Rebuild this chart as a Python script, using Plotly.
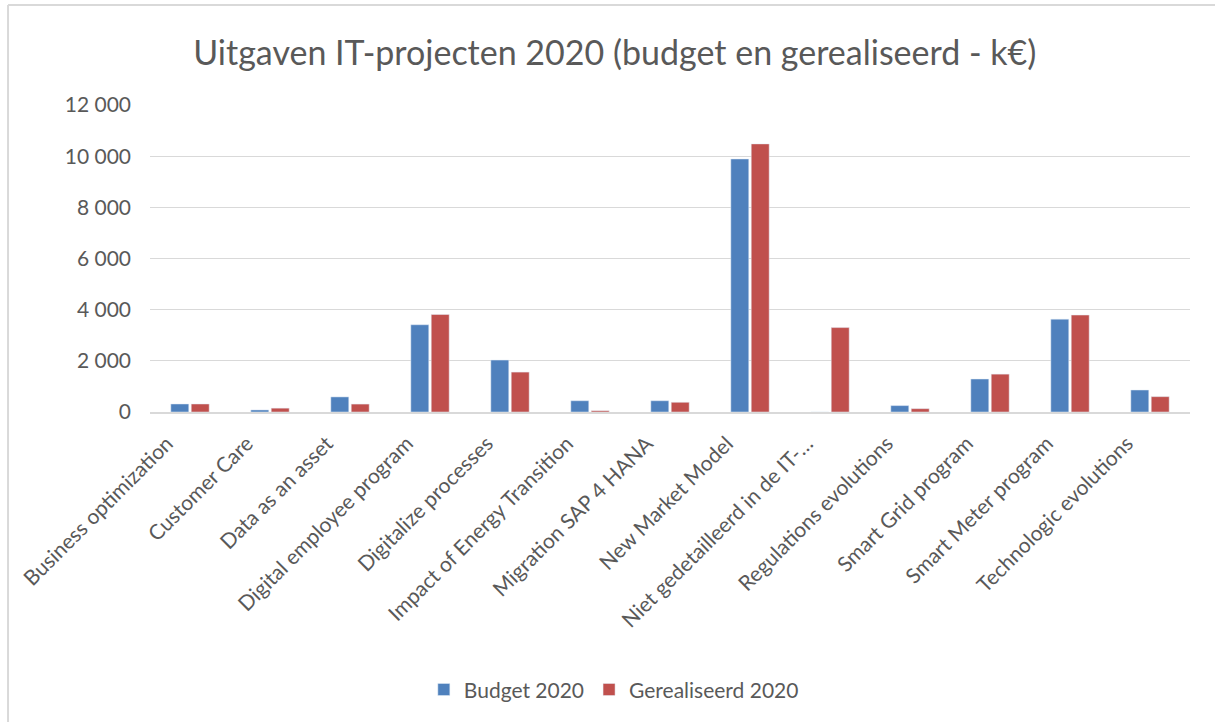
import plotly.graph_objects as go

categories = [
    "Business optimization", "Customer Care", "Data as an asset",
    "Digital employee program", "Digitalize processes",
    "Impact of Energy Transition", "Migration SAP 4 HANA",
    "New Market Model", "Niet gedetailleerd in de IT-…",
    "Regulations evolutions", "Smart Grid program",
    "Smart Meter program", "Technologic evolutions",
]
budget_2020 = [313, 80, 590, 3410, 2030, 440, 440, 9890, 0, 250, 1290, 3630, 860]
gerealiseerd_2020 = [313, 150, 310, 3810, 1560, 50, 380, 10480, 3300, 130, 1480, 3790, 600]
y_ticks = [0, 2000, 4000, 6000, 8000, 10000, 12000]

FONT = "Lato"
TXT = "#595959"

fig = go.Figure()
fig.add_trace(go.Bar(name="Budget 2020", x=categories, y=budget_2020,
                     marker=dict(color="#4f81bd")))
fig.add_trace(go.Bar(name="Gerealiseerd 2020", x=categories, y=gerealiseerd_2020,
                     marker=dict(color="#c0504d")))

fig.update_layout(
    width=1215, height=722,
    paper_bgcolor="white", plot_bgcolor="white",
    margin=dict(l=150, r=25, t=105, b=310),
    separators=", ",
    barmode="group", bargap=0.49, bargroupgap=0.12,
    font=dict(family=FONT, color=TXT),
    title=dict(text="Uitgaven IT-projecten 2020 (budget en gerealiseerd - k€)",
               x=0.506, xanchor="center", y=0.927, yanchor="middle",
               font=dict(family=FONT, size=34, color=TXT)),
    legend=dict(orientation="h", x=0.446, xanchor="center", y=-0.905, yanchor="middle",
                font=dict(family=FONT, size=21, color=TXT), itemwidth=30),
    showlegend=True,
)
fig.update_yaxes(range=[0, 12000], tickvals=y_ticks, tickformat=",",
                 showgrid=True, gridcolor="#d9d9d9", gridwidth=1.2,
                 zeroline=False, showline=False, ticks="",
                 ticklabelstandoff=18,
                 tickfont=dict(family=FONT, size=21, color=TXT))
fig.update_xaxes(tickangle=-45, showline=True, linecolor="#d9d9d9", linewidth=2,
                 ticks="", showgrid=False,
                 ticklabelshift=-23, ticklabelstandoff=9,
                 tickfont=dict(family=FONT, size=21, color=TXT))

# chart frame (outer border lines)
fig.add_shape(type="line", xref="paper", yref="paper",
              x0=-0.1365, x1=1.05, y0=1.3257, y1=1.3257,
              line=dict(color="#d9d9d9", width=2))
fig.add_shape(type="line", xref="paper", yref="paper",
              x0=-0.1365, x1=-0.1365, y0=1.3257, y1=-1.05,
              line=dict(color="#d9d9d9", width=2))

fig.write_html("out.html", config={"displayModeBar": False},
               post_script="document.body.style.margin='0';")
